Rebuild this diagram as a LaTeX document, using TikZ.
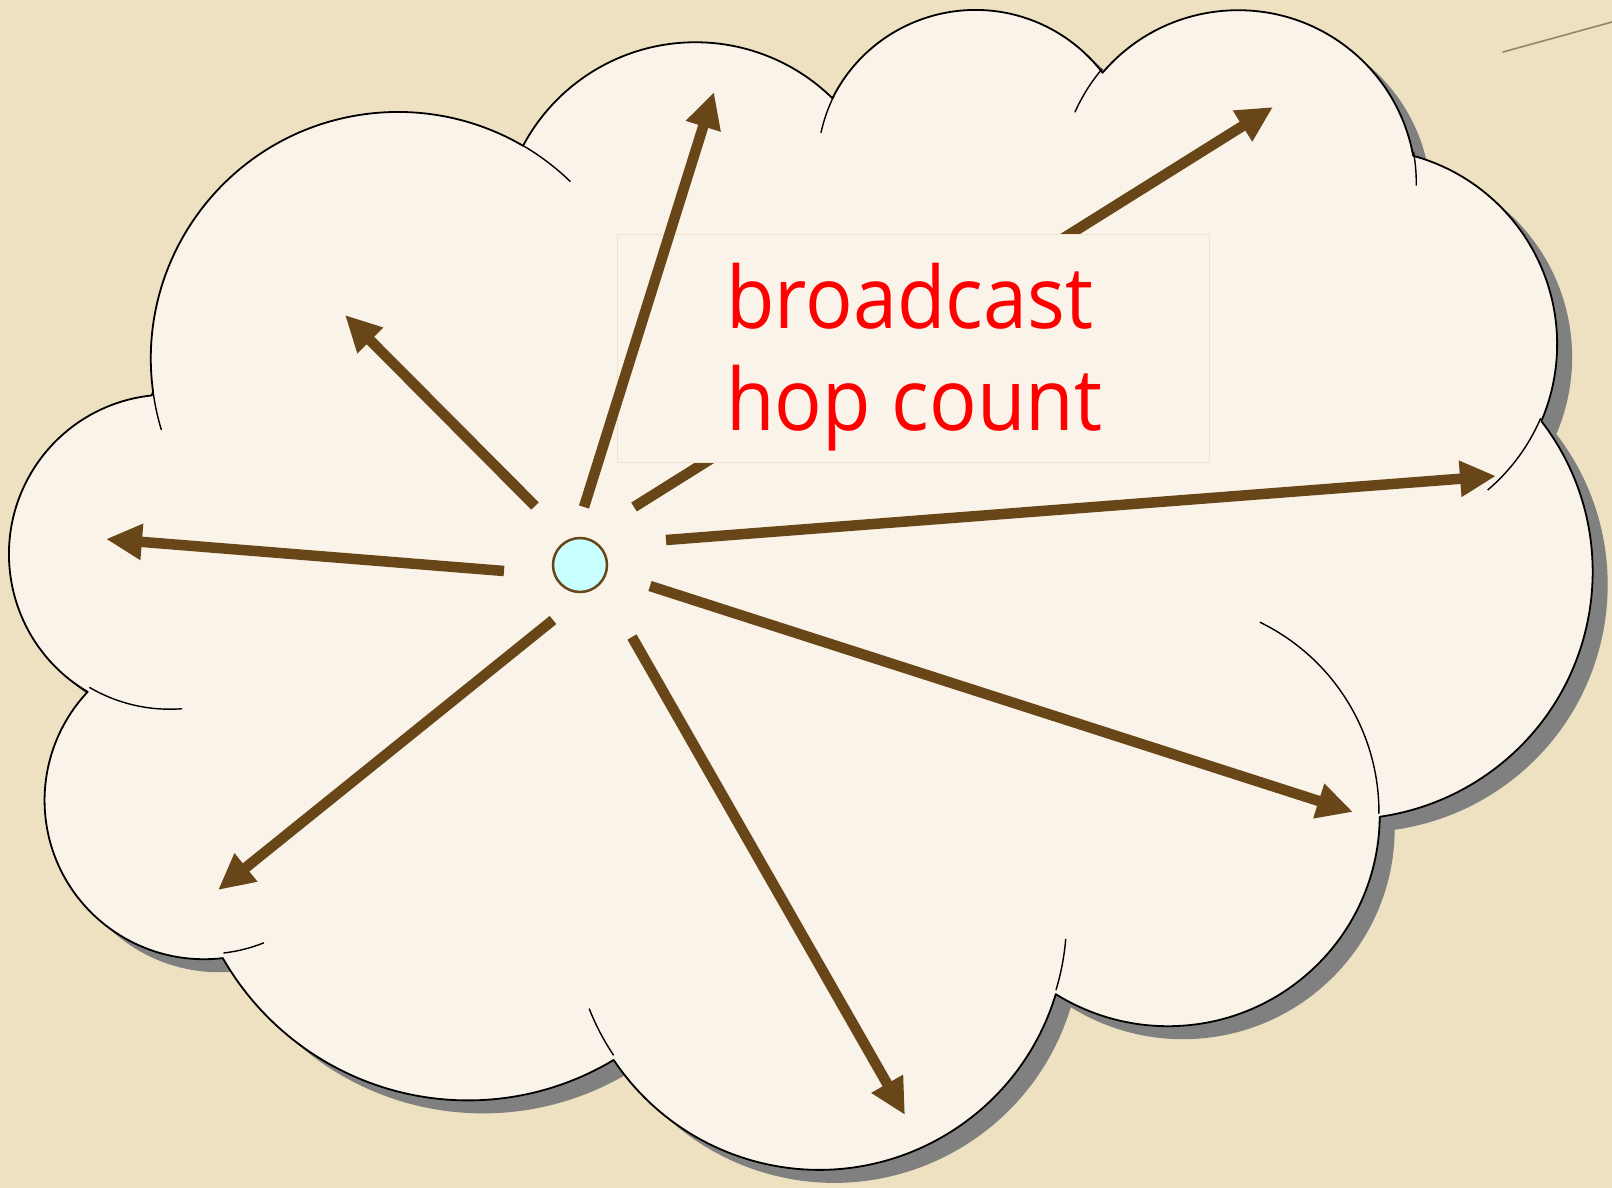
\documentclass[tikz,border=0pt]{standalone}
\usepackage{fontspec}
\newfontfamily\lblfont[FakeStretch=0.92]{Open Sans}
\usetikzlibrary{arrows.meta}
\definecolor{bgcol}{RGB}{237,225,194}
\definecolor{cloudfill}{RGB}{249,243,233}
\definecolor{shadowgray}{RGB}{128,128,128}
\definecolor{arrowbrown}{RGB}{104,70,24}
\definecolor{nodecyan}{RGB}{200,255,255}
\definecolor{boxline}{RGB}{240,226,204}
\definecolor{fiber}{RGB}{150,135,100}

% build an arc from a DrawingML-style arcTo (visual angles) in units of 1/10 of the 43200 path space
\newcommand\mkarc[5]{%
  \pgfmathsetmacro\mkT{atan2((#2)*sin(#4),(#3)*cos(#4))}%
  \pgfmathsetmacro\mkS{-(\mkT+360*round(((#4)-\mkT)/360))}%
  \pgfmathsetmacro\mkEv{(#4)+(#5)}%
  \pgfmathsetmacro\mkT{atan2((#2)*sin(\mkEv),(#3)*cos(\mkEv))}%
  \pgfmathsetmacro\mkE{-(\mkT+360*round((\mkEv-\mkT)/360))}%
  \pgfmathsetmacro\mkRx{(#2)*0.36613}%
  \pgfmathsetmacro\mkRy{(#3)*0.26839}%
  \edef#1{arc[start angle=\mkS, end angle=\mkE, x radius=\mkRx pt, y radius=\mkRy pt]}%
}

\begin{document}
\begin{tikzpicture}[x=1pt,y=-1pt,
  arrowline/.style={line width=10.5pt, draw=arrowbrown, -{Triangle[length=36pt,width=34pt]}},
  cloudline/.style={draw=black, line width=1.8pt, line join=round},
  innerline/.style={draw=black, line width=1.4pt, line cap=butt},
  textline/.style={anchor=base west, inner sep=0pt, text=red, font=\lblfont\fontsize{86}{100}\selectfont}]

\useasboundingbox (0,0) rectangle (1612,1188);
\fill[bgcol] (0,0) rectangle (1612,1188);
\draw[fiber, line width=1.6pt, line cap=round] (1503,52) -- (1612,22);

% outer arcs
\mkarc\aA{675.3}{919.0}{-190.4875}{123.7805}
\mkarc\aB{533.3}{726.7}{-144.1024}{89.9452}
\mkarc\aC{436.5}{594.5}{-145.8079}{99.7230}
\mkarc\aD{485.7}{659.5}{-130.9861}{117.2417}
\mkarc\aE{533.3}{727.3}{-78.7089}{109.0269}
\mkarc\aF{677.5}{922.0}{-46.2673}{130.2690}
\mkarc\aG{578.5}{786.7}{0.6250}{114.0333}
\mkarc\aH{675.2}{921.5}{22.4516}{115.1726}
\mkarc\aI{772.0}{1054.3}{66.2426}{75.7110}
\mkarc\aJ{436.0}{591.8}{-274.9421}{146.7356}
\mkarc\aK{434.5}{594.5}{-246.8285}{152.5189}
% inner arcs
\mkarc\iA{434.5}{594.5}{86.7420}{26.4295}
\mkarc\iB{436.0}{591.8}{73.6105}{11.4475}
\mkarc\iC{675.2}{921.5}{137.6242}{14.0811}
\mkarc\iD{675.2}{921.5}{6.4533}{15.9984}
\mkarc\iE{578.5}{786.7}{-70.2924}{70.9174}
\mkarc\iF{533.3}{727.3}{30.3180}{27.7515}
\mkarc\iG{485.7}{659.5}{-13.7443}{14.8589}
\mkarc\iH{485.7}{659.5}{-149.1815}{18.1954}
\mkarc\iI{436.5}{594.5}{-163.4943}{17.6864}
\mkarc\iJ{675.3}{919.0}{-66.7070}{12.3194}
\mkarc\iK{675.3}{919.0}{157.6544}{11.8582}

\begin{scope}[shift={(10.28pt,-6.16pt)}, x=0.36613pt, y=-0.26839pt]
  \def\cloudpath{(390,1437) \aA \aB \aC \aD \aE \aF \aG \aH \aI \aJ \aK -- cycle}
  \fill[shadowgray, shift={(15pt,-13pt)}] \cloudpath;
  \fill[cloudfill] \cloudpath;
  \draw[cloudline] \cloudpath;
  \draw[innerline] (469.3,2617.7) \iA;
  \draw[innerline] (692.8,3489.9) \iB;
  \draw[innerline] (1647.8,3909.0) \iC;
  \draw[innerline] (2882.7,3475.1) \iD;
  \draw[innerline] (3412.9,2295.4) \iE;
  \draw[innerline] (4179.8,1535.4) \iF;
  \draw[innerline] (3832.4,542.6) \iG;
  \draw[innerline] (2907.8,395.2) \iH;
  \draw[innerline] (2214.1,472.0) \iI;
  \draw[innerline] (1400.0,519.2) \iJ;
  \draw[innerline] (412.7,1578.9) \iK;
\end{scope}

% arrow end points
\coordinate (s1) at (535,506);  \coordinate (t1) at (345,315);
\coordinate (s2) at (584,507);  \coordinate (t2) at (714,92);
\coordinate (s3) at (634,507);  \coordinate (t3) at (1273,107);
\coordinate (s4) at (666,540);  \coordinate (t4) at (1496,476);
\coordinate (s5) at (650,586);  \coordinate (t5) at (1353,812);
\coordinate (s6) at (632,637);  \coordinate (t6) at (905,1115);
\coordinate (s7) at (553,620);  \coordinate (t7) at (218,890);
\coordinate (s8) at (504,571);  \coordinate (t8) at (106,539);

% arrow hidden behind the label box
\draw[arrowline] (s3) -- (t3);

% label box
\node[draw=boxline, line width=1.2pt, fill=cloudfill, minimum width=592pt, minimum height=228pt,
      inner sep=0pt, anchor=north west] (box) at (617,234) {};
\node[textline] (line1) at (726,328) {broadcast};
\node[textline] (line2) at (726,430) {hop count};

\draw[arrowline] (s1) -- (t1);
\draw[arrowline] (s2) -- (t2);
\draw[arrowline] (s4) -- (t4);
\draw[arrowline] (s5) -- (t5);
\draw[arrowline] (s6) -- (t6);
\draw[arrowline] (s7) -- (t7);
\draw[arrowline] (s8) -- (t8);

% source node
\node[circle, draw=arrowbrown, line width=2.5pt, fill=nodecyan, minimum size=54pt, inner sep=0pt] (src) at (580,565) {};
\end{tikzpicture}
\end{document}
